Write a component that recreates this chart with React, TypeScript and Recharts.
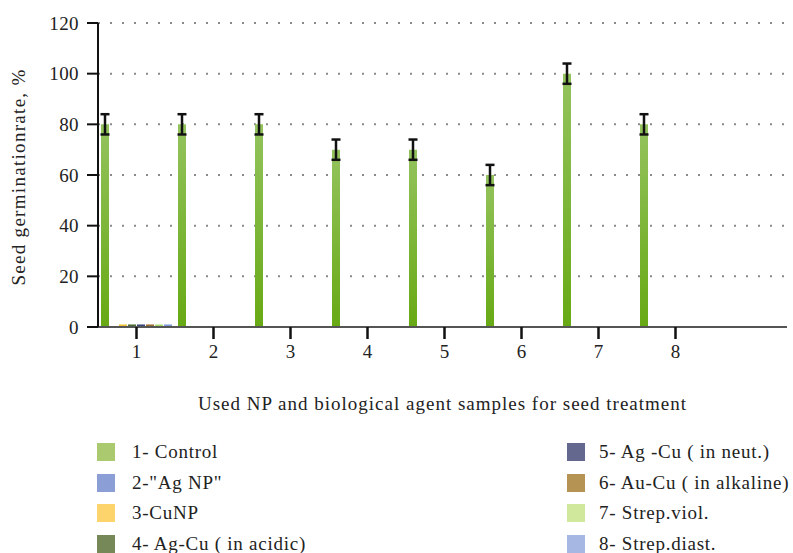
import { BarChart, Bar, XAxis, YAxis, CartesianGrid, ErrorBar, Label } from "recharts";

const categories = ["1", "2", "3", "4", "5", "6", "7", "8"];

// germination rate, %
const control = [80, 80, 80, 70, 70, 60, 100, 80];
const controlErr = [4, 4, 4, 4, 4, 4, 4, 4];
const agNp = [0, 0, 0, 0, 0, 0, 0, 0];
const cuNp = [1, 0, 0, 0, 0, 0, 0, 0];
const agCuAcid = [1, 0, 0, 0, 0, 0, 0, 0];
const agCuNeut = [1, 0, 0, 0, 0, 0, 0, 0];
const auCuAlk = [1, 0, 0, 0, 0, 0, 0, 0];
const strepViol = [1, 0, 0, 0, 0, 0, 0, 0];
const strepDiast = [1, 0, 0, 0, 0, 0, 0, 0];

const yTicks = [0, 20, 40, 60, 80, 100, 120];

const series = [
    { key: "control", name: "1- Control", bar: "url(#greenGrad)", legend: "#abc96f" },
    { key: "agNp", name: "2-\"Ag NP\"", bar: "#8b9ed6", legend: "#8b9ed6" },
    { key: "cuNp", name: "3-CuNP", bar: "#f2c236", legend: "#fdd36b" },
    { key: "agCuAcid", name: "4- Ag-Cu ( in acidic)", bar: "#4d6b34", legend: "#768857" },
    { key: "agCuNeut", name: "5- Ag -Cu ( in neut.)", bar: "#36457a", legend: "#64688f" },
    { key: "auCuAlk", name: "6- Au-Cu ( in alkaline)", bar: "#9b6b2b", legend: "#b49353" },
    { key: "strepViol", name: "7- Strep.viol.", bar: "#a9da6b", legend: "#d0e89b" },
    { key: "strepDiast", name: "8- Strep.diast.", bar: "#7d99d9", legend: "#a7b7e4" },
];

const data = categories.map((c, i) => ({
    name: c,
    control: control[i],
    err: controlErr[i],
    agNp: agNp[i],
    cuNp: cuNp[i],
    agCuAcid: agCuAcid[i],
    agCuNeut: agCuNeut[i],
    auCuAlk: auCuAlk[i],
    strepViol: strepViol[i],
    strepDiast: strepDiast[i],
}));

const font = "Liberation Serif, DejaVu Serif, serif";

export default function App() {
    return (
        <div style={{ position: "absolute", top: 0, left: 0, width: 793, height: 553, background: "#fff", fontFamily: font, overflow: "hidden" }}>
            <BarChart
                width={793}
                height={425}
                data={data}
                margin={{ top: 23, right: 6, left: 38, bottom: 8 }}
                barSize={8}
                barGap={1}
                style={{ fontFamily: font }}
            >
                <defs>
                    <linearGradient id="greenGrad" x1="0" y1="0" x2="0" y2="1">
                        <stop offset="0%" stopColor="#94c35e" />
                        <stop offset="100%" stopColor="#67a914" />
                    </linearGradient>
                </defs>
                <CartesianGrid vertical={false} stroke="#8a8a8a" strokeWidth={2} strokeDasharray="2 10" horizontalValues={[20, 40, 60, 80, 100, 120]} />
                <XAxis
                    dataKey="name"
                    height={90}
                    padding={{ left: 0, right: 73 }}
                    axisLine={{ stroke: "#555", strokeWidth: 2 }}
                    tickLine={{ stroke: "#111", strokeWidth: 2.5 }}
                    tickSize={12}
                    tickMargin={6}
                    tick={{ fill: "#222", fontSize: 19, fontFamily: font }}
                >
                    <Label
                        value="Used NP and biological agent samples for seed treatment"
                        position="insideBottom"
                        offset={7}
                        style={{ fill: "#222", fontSize: 19, fontFamily: font, letterSpacing: 1.0 }}
                    />
                </XAxis>
                <YAxis
                    width={60}
                    domain={[0, 120]}
                    ticks={yTicks}
                    axisLine={{ stroke: "#111", strokeWidth: 2 }}
                    tickLine={{ stroke: "#111", strokeWidth: 2 }}
                    tickSize={11}
                    tickMargin={8}
                    tick={{ fill: "#222", fontSize: 19, fontFamily: font, letterSpacing: 0.4 }}
                >
                    <Label
                        content={() => (
                            <text
                                x={18}
                                y={177}
                                transform="rotate(-90 18 177)"
                                textAnchor="middle"
                                dominantBaseline="central"
                                style={{ fill: "#222", fontSize: 19, fontFamily: font, letterSpacing: 1.3 }}
                            >
                                Seed germinationrate, %
                            </text>
                        )}
                    />
                </YAxis>
                {series.map((s) => (
                    <Bar key={s.key} dataKey={s.key} name={s.name} fill={s.bar} isAnimationActive={false}>
                        {s.key === "control" && (
                            <ErrorBar dataKey="err" width={4.5} stroke="#111" strokeWidth={2.5} />
                        )}
                    </Bar>
                ))}
            </BarChart>

            {/* legend, two columns */}
            {series.map((s, i) => {
                const col = i < 4 ? 0 : 1;
                const row = i % 4;
                return (
                    <div
                        key={s.key}
                        style={{
                            position: "absolute",
                            left: col === 0 ? 97 : 567,
                            top: 452 + row * 30.7 - 11,
                            height: 22,
                            display: "flex",
                            alignItems: "center",
                            whiteSpace: "nowrap",
                        }}
                    >
                        <span style={{ width: 18, height: 18, background: s.legend, display: "inline-block" }} />
                        <span style={{ marginLeft: col === 0 ? 17 : 14, fontSize: 19, color: "#222", letterSpacing: 0.75 }}>{s.name}</span>
                    </div>
                );
            })}
        </div>
    );
}
